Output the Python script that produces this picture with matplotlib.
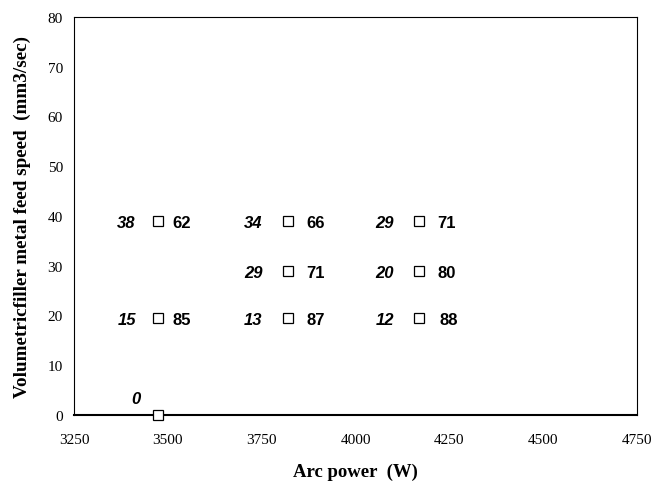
import matplotlib
matplotlib.use("Agg")
import matplotlib.pyplot as plt

arc_power = [3475, 3475, 3475, 3820, 3820, 3820, 4170, 4170, 4170]
feed_speed = [0, 19.5, 39, 19.5, 29, 39, 19.5, 29, 39]
left_labels = ["0", "15", "38", "13", "29", "34", "12", "20", "29"]
right_labels = ["", "85", "62", "87", "71", "66", "88", "80", "71"]

xticks = [3250, 3500, 3750, 4000, 4250, 4500, 4750]
yticks = [0, 10, 20, 30, 40, 50, 60, 70, 80]

# label centre offsets (points) per point: style only
left_off = [-16, -23, -23, -25, -25, -25, -25, -25, -25]
right_off = [0, 16.5, 16.5, 20, 20, 20, 21, 20, 19.5]

fig = plt.figure(figsize=(6.51, 4.85), dpi=100)
ax = fig.add_axes([0.1137, 0.1423, 0.8648, 0.8206])

ax.plot(arc_power, feed_speed, linestyle="none", marker="s", markersize=7,
        markerfacecolor="white", markeredgecolor="black", markeredgewidth=0.9,
        clip_on=False, zorder=5)

for x, y, l, r, lo, ro in zip(arc_power, feed_speed, left_labels, right_labels,
                              left_off, right_off):
    if y == 0:
        ax.annotate(l, (x, y), xytext=(lo, 12), textcoords="offset points",
                    ha="center", va="center", fontsize=12, fontweight="bold",
                    fontstyle="italic", family="Liberation Sans")
        continue
    ax.annotate(l, (x, y), xytext=(lo, -1), textcoords="offset points",
                ha="center", va="center", fontsize=12, fontweight="bold",
                fontstyle="italic", family="Liberation Sans")
    ax.annotate(r, (x, y), xytext=(ro, -1), textcoords="offset points",
                ha="center", va="center", fontsize=12, fontweight="bold",
                family="Liberation Sans")

ax.set_xlim(3250, 4750)
ax.set_ylim(0, 80)
ax.set_xticks(xticks)
ax.set_yticks(yticks)
ax.tick_params(length=0, labelsize=11)
ax.tick_params(axis="x", pad=13)
ax.tick_params(axis="y", pad=8)
for lab in ax.get_xticklabels() + ax.get_yticklabels():
    lab.set_family("Liberation Serif")
for s in ax.spines.values():
    s.set_linewidth(0.8)
ax.spines["bottom"].set_linewidth(1.5)

ax.set_xlabel("Arc power  (W)", family="Liberation Serif", fontweight="bold",
              fontsize=13.5, labelpad=12)
ax.set_ylabel("Volumetricfiller metal feed speed  (mm3/sec)", family="Liberation Serif",
              fontweight="bold", fontsize=13.8, labelpad=12)

fig.savefig("out.png", dpi=100)
